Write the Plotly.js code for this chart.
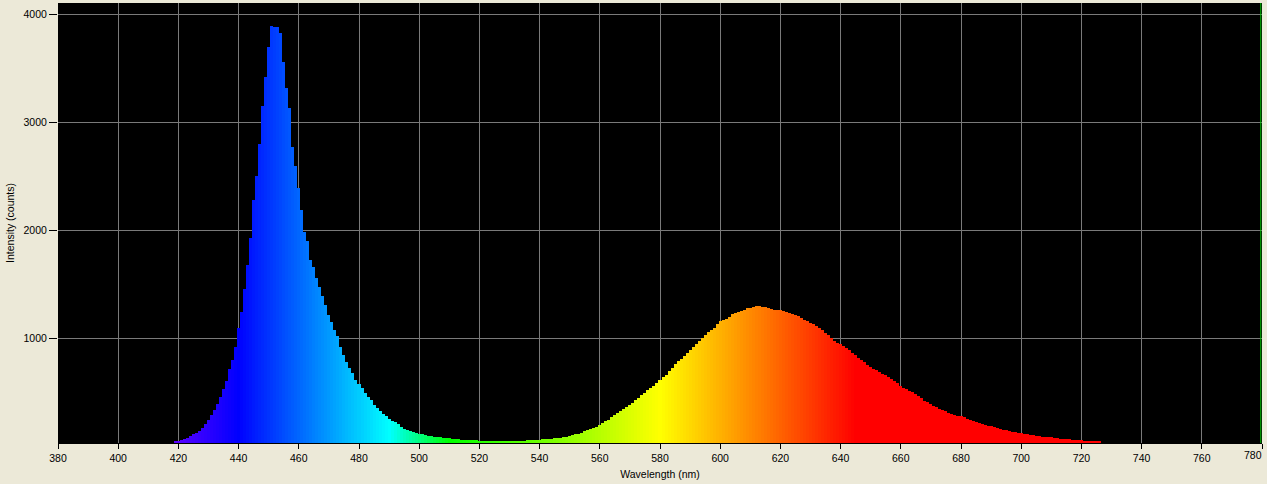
<!DOCTYPE html>
<html>
<head>
<meta charset="utf-8">
<script src="https://cdn.plot.ly/plotly-3.0.1.min.js"></script>
<style>
  html, body { margin: 0; padding: 0; background: #ECE9D8; }
  #chart { width: 1267px; height: 484px; }
</style>
</head>
<body>
<div id="chart"></div>
<script>
// Wavelength (nm), 1 nm steps starting at 419
const startWavelength = 419;
const intensity = [
  48, 52, 60, 70, 80, 98, 112, 122, 142, 172,            // 419-428
  205, 245, 290, 335, 395, 460, 537, 605, 715, 800,      // 429-438
  920, 1100, 1250, 1460, 1680, 1930, 2280, 2500, 2800, 3150, // 439-448
  3420, 3700, 3890, 3880, 3885, 3824, 3560, 3320, 3130, 2770, // 449-458
  2600, 2389, 2190, 1990, 1900, 1725, 1665, 1560, 1475, 1395, // 459-468
  1310, 1220, 1150, 1077, 1020, 920, 850, 780, 730, 680, // 469-478
  620, 575, 545, 500, 460, 430, 385, 355, 328, 300,      // 479-488
  282, 258, 238, 225, 205, 185, 166, 152, 142, 136,      // 489-498
  126, 120, 115, 108, 102, 97, 93, 88, 84, 80,           // 499-508
  78, 75, 73, 70, 68, 65, 63, 61, 60, 58,                // 509-518
  57, 55, 54, 53, 52, 52, 52, 51, 52, 52,                // 519-528
  53, 53, 54, 55, 55, 55, 56, 57, 59, 60,                // 529-538
  62, 65, 66, 69, 71, 74, 77, 80, 82, 88,                // 539-548
  93, 98, 104, 112, 120, 130, 140, 149, 160, 172,        // 549-558
  185, 200, 215, 235, 250, 275, 295, 312, 332, 348,      // 559-568
  365, 385, 407, 428, 450, 475, 500, 520, 540, 565,      // 569-578
  590, 615, 640, 665, 695, 728, 760, 790, 815, 840,      // 579-588
  865, 895, 920, 950, 977, 1005, 1035, 1060, 1078, 1098, // 589-598
  1130, 1160, 1170, 1183, 1200, 1225, 1238, 1250, 1258, 1268, // 599-608
  1278, 1285, 1292, 1300, 1298, 1296, 1290, 1282, 1272, 1268, // 609-618
  1265, 1262, 1255, 1248, 1238, 1228, 1222, 1212, 1192, 1175, // 619-628
  1162, 1148, 1132, 1112, 1095, 1077, 1055, 1035, 1005, 978,  // 629-638
  955, 945, 935, 910, 892, 866, 848, 822, 805, 780,      // 639-648
  752, 735, 722, 708, 690, 676, 660, 643, 625, 605,      // 649-658
  588, 560, 545, 532, 518, 502, 485, 465, 445, 425,      // 659-668
  408, 390, 378, 365, 350, 337, 325, 315, 302, 292,      // 669-678
  285, 280, 270, 258, 248, 236, 226, 218, 212, 203,      // 679-688
  195, 187, 178, 171, 163, 155, 150, 145, 139, 133,      // 689-698
  127, 121, 117, 113, 109, 105, 101, 97, 93, 89,         // 699-708
  86, 84, 79, 76, 74, 72, 70, 67, 65, 62,                // 709-718
  60, 57, 55, 53, 51, 50, 49, 49                         // 719-726
];
const xTickVals = [380,400,420,440,460,480,500,520,540,560,580,600,620,640,660,680,700,720,740,760,780];
const yTickVals = [1000, 2000, 3000, 4000];
const cursorWavelength = 779.6;

const wavelengths = intensity.map((_, i) => startWavelength + i);

function wavelengthColor(w) {
  let r = 0, g = 0, b = 0;
  if (w < 440) { r = (440 - w) / 60; g = 0; b = 1; }
  else if (w < 490) { r = 0; g = (w - 440) / 50; b = 1; }
  else if (w < 510) { r = 0; g = 1; b = (510 - w) / 20; }
  else if (w < 580) { r = (w - 510) / 70; g = 1; b = 0; }
  else if (w < 645) { r = 1; g = (645 - w) / 65; b = 0; }
  else { r = 1; g = 0; b = 0; }
  const c = v => Math.round(Math.max(0, Math.min(1, v)) * 255);
  return `rgb(${c(r)},${c(g)},${c(b)})`;
}
const colors = wavelengths.map(wavelengthColor);

const trace = {
  type: 'bar',
  x: wavelengths,
  y: intensity,
  width: 1,
  marker: { color: colors, line: { width: 0 } },
  hoverinfo: 'x+y'
};

const lastTick = xTickVals[xTickVals.length - 1];
const fontFam = '"Liberation Sans", Arial, sans-serif';
const layout = {
  width: 1267,
  height: 484,
  margin: { l: 58, r: 5, t: 3, b: 41 },
  paper_bgcolor: '#ECE9D8',
  plot_bgcolor: '#000000',
  showlegend: false,
  bargap: 0,
  font: { family: fontFam, size: 10.5, color: '#000000' },
  xaxis: {
    range: [380, 780],
    tickvals: xTickVals,
    ticktext: xTickVals.map(v => v === lastTick ? '' : String(v)),
    ticks: 'outside',
    ticklen: 5,
    tickcolor: '#000000',
    showgrid: true,
    gridcolor: '#7a7a7a',
    gridwidth: 1,
    zeroline: false,
    showline: true,
    linecolor: '#000000',
    linewidth: 1,
    tickfont: { family: fontFam, size: 10.5, color: '#000000' },
    title: { text: 'Wavelength (nm)', font: { family: fontFam, size: 10.5, color: '#000000' }, standoff: 8 },
    fixedrange: true
  },
  yaxis: {
    range: [33, 4105],
    tickvals: yTickVals,
    ticktext: yTickVals.map(String),
    ticks: 'outside',
    ticklen: 8,
    tickcolor: '#000000',
    showgrid: true,
    gridcolor: '#7a7a7a',
    gridwidth: 1,
    zeroline: false,
    showline: false,
    tickfont: { family: fontFam, size: 10.5, color: '#000000' },
    title: { text: 'Intensity (counts)', font: { family: fontFam, size: 10.5, color: '#000000' }, standoff: 6 },
    fixedrange: true
  },
  annotations: [
    { x: lastTick, xref: 'x', y: 0, yref: 'paper', xanchor: 'right', yanchor: 'top',
      yshift: -5, xshift: 1, text: String(lastTick), showarrow: false,
      font: { family: fontFam, size: 10.5, color: '#000000' }, borderpad: 0 }
  ],
  shapes: [
    { type: 'line', xref: 'x', yref: 'paper', x0: cursorWavelength, x1: cursorWavelength, y0: 0, y1: 1,
      line: { color: '#00c800', width: 1 } }
  ]
};

Plotly.newPlot('chart', [trace], layout, { displayModeBar: false, staticPlot: true });
</script>
</body>
</html>
